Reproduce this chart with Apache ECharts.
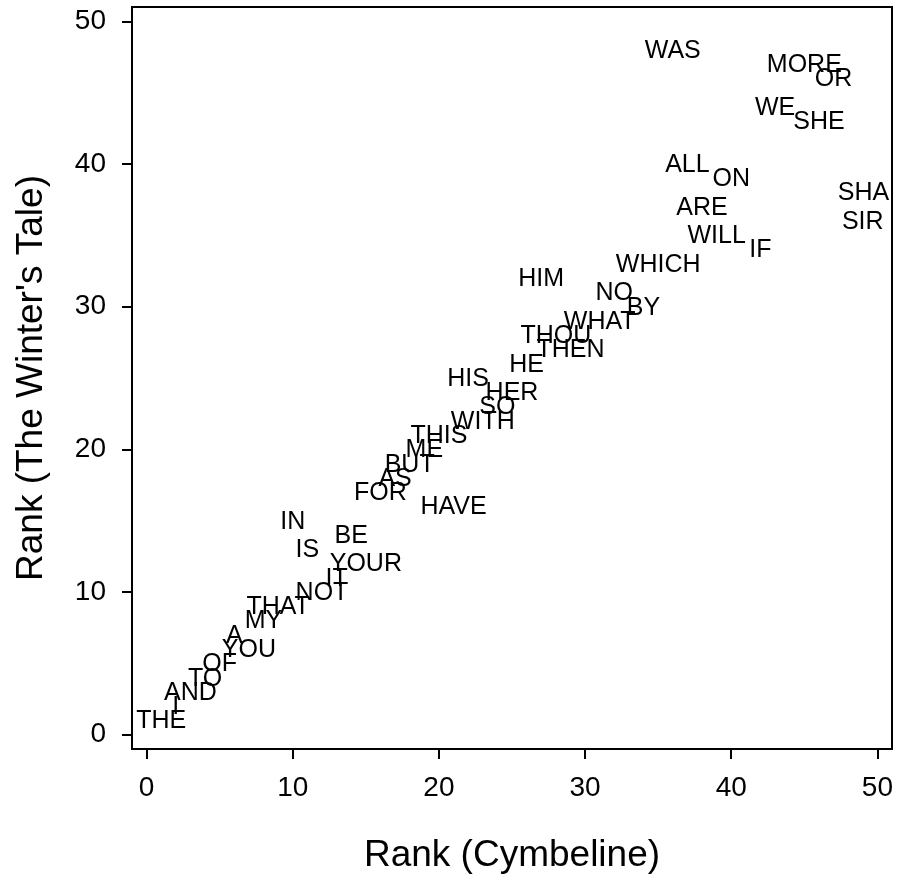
<!DOCTYPE html>
<html>
<head>
<meta charset="utf-8">
<script src="https://cdn.jsdelivr.net/npm/echarts@6/dist/echarts.min.js"></script>
<style>
html,body{margin:0;padding:0;background:#fff;}
#chart{width:898px;height:875px;}
</style>
</head>
<body>
<div id="chart"></div>
<script>
// ---- data ----
const words = ["THE","I","AND","TO","OF","A","YOU","MY","THAT","IN","IS","NOT","IT","BE","YOUR",
  "FOR","AS","BUT","ME","THIS","HAVE","HIS","WITH","SO","HER","HE","HIM","THOU","THEN","WHAT",
  "NO","BY","WHICH","WAS","ALL","ARE","WILL","ON","IF","WE","MORE","SHE","OR","SIR","SHALL"];
const rankCymbeline = [1,2,3,4,5,6,7,8,9,10,11,12,13,14,15,
  16,17,18,19,20,21,22,23,24,25,26,27,28,29,31,
  32,34,35,36,37,38,39,40,42,43,45,46,47,49,50];
const rankWintersTale = [1,2,3,4,5,7,6,8,9,15,13,10,11,14,12,
  17,18,19,20,21,16,25,22,23,24,26,32,28,27,29,
  31,30,33,48,40,37,35,39,34,44,47,43,46,36,38];
const tickValues = [0,10,20,30,40,50];
const xTitle = "Rank (Cymbeline)";
const yTitle = "Rank (The Winter's Tale)";

const FONT = "'Liberation Sans', Arial, Helvetica, sans-serif";
const seriesData = words.map((w, i) => [rankCymbeline[i], rankWintersTale[i], w]);

const chart = echarts.init(document.getElementById('chart'), null, {renderer: 'canvas'});
const axisCommon = {
  type: 'value',
  min: -1, max: 51,
  splitLine: {show: false},
  axisLine: {show: false, onZero: false},
  axisTick: {show: true, inside: false, length: 10, customValues: tickValues, lineStyle: {color: '#000', width: 2}},
  axisLabel: {show: true, customValues: tickValues, color: '#000', fontSize: 28, fontFamily: FONT},
  nameLocation: 'middle',
  nameTextStyle: {color: '#000', fontSize: 37, fontFamily: FONT}
};
chart.setOption({
  animation: false,
  backgroundColor: '#fff',
  grid: {left: 132, right: 6, top: 7, bottom: 126, show: true, borderColor: '#000', borderWidth: 2,
    backgroundColor: 'transparent', containLabel: false, outerBoundsMode: 'none'},
  xAxis: Object.assign({}, axisCommon, {name: xTitle, nameGap: 88,
    axisLabel: Object.assign({}, axisCommon.axisLabel, {margin: 25})}),
  yAxis: Object.assign({}, axisCommon, {name: yTitle, nameGap: 82, nameRotate: 90,
    axisLabel: Object.assign({}, axisCommon.axisLabel, {margin: 26})}),
  series: [{
    type: 'custom',
    clip: true,
    data: seriesData,
    renderItem: function (params, api) {
      const p = api.coord([api.value(0), api.value(1)]);
      return {
        type: 'text',
        x: p[0], y: p[1] + 1,
        style: {
          text: seriesData[params.dataIndex][2],
          fill: '#000',
          fontSize: 25,
          fontFamily: FONT,
          align: 'center',
          verticalAlign: 'middle'
        }
      };
    }
  }]
});
</script>
</body>
</html>
